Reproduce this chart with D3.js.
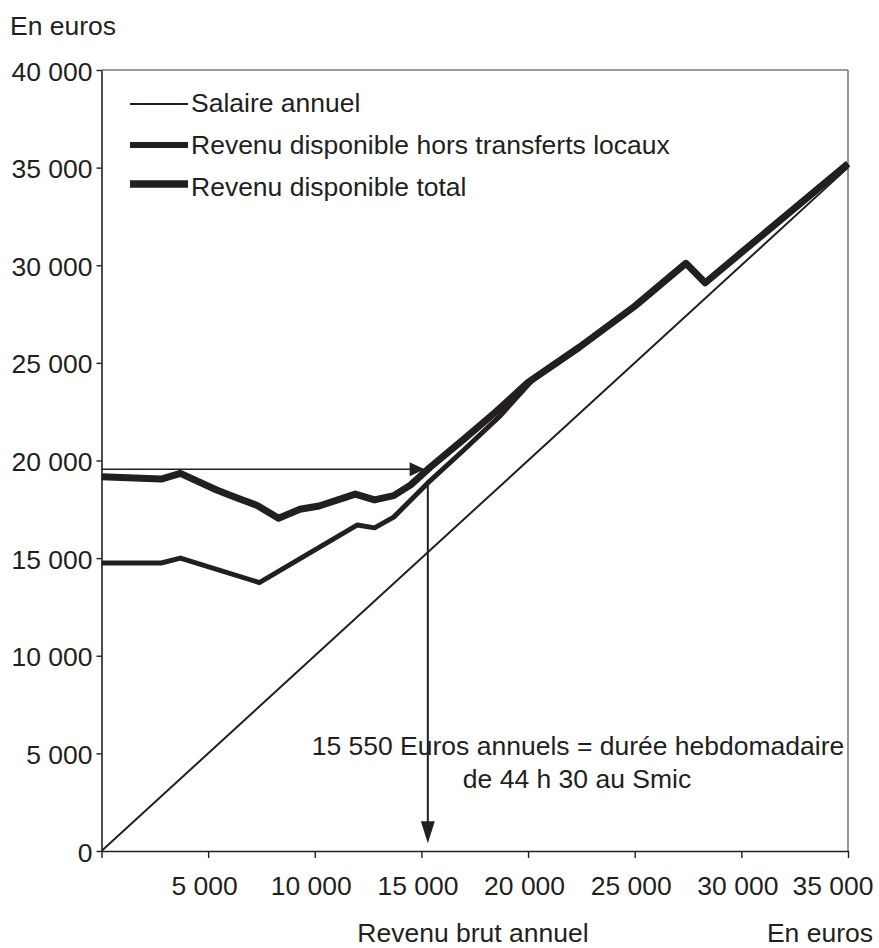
<!DOCTYPE html>
<html>
<head>
<meta charset="utf-8">
<script src="https://cdn.jsdelivr.net/npm/d3@7/dist/d3.min.js"></script>
<style>
  html, body { margin: 0; padding: 0; background: #fff; }
  svg text { font-family: "Liberation Sans", Arial, Helvetica, sans-serif; fill: #231f20; }
</style>
</head>
<body>
<svg id="chart" width="879" height="948"></svg>
<script>
// ---- Data ----
const seriesNames = ["Salaire annuel", "Revenu disponible hors transferts locaux", "Revenu disponible total"];

const salaireX = [0, 35000];
const salaireY = [0, 35000];

const horsX = [0, 2800, 3700, 7400, 12000, 12800, 13700, 15300, 17000, 18700, 20300, 22400, 25000, 27400, 28300, 30000, 35000];
const horsY = [14750, 14750, 15000, 13750, 16700, 16550, 17100, 18850, 20550, 22300, 24230, 25800, 27900, 30100, 29100, 30650, 35200];

const totalX = [0, 2800, 3700, 5400, 6300, 7300, 8300, 9300, 10200, 11900, 12800, 13700, 14500, 15400, 17000, 18500, 20000, 22400, 25000, 27400, 28300, 30000, 35000];
const totalY = [19170, 19050, 19340, 18490, 18110, 17700, 17040, 17500, 17670, 18280, 17980, 18200, 18750, 19650, 21100, 22500, 24000, 25800, 27900, 30100, 29100, 30650, 35200];

const yTicks = [0, 5000, 10000, 15000, 20000, 25000, 30000, 35000, 40000];
const xTicks = [0, 5000, 10000, 15000, 20000, 25000, 30000, 35000];

// annotation arrows (data units)
const hArrowX = [0, 15150];
const hArrowY = 19550;
const vArrowX = 15300;
const vArrowY = [18900, 400];

const noteLines = ["15 550 Euros annuels = durée hebdomadaire", "de 44 h 30 au Smic"];

// ---- Chart ----
const svg = d3.select("#chart");
const fontSize = 26.5;
const ink = "#231f20";

const x = d3.scaleLinear().domain([0, 35000]).range([101.5, 848]);
const y = d3.scaleLinear().domain([0, 40000]).range([851, 70]);

const loc = d3.formatLocale({ decimal: ",", thousands: " ", grouping: [3], currency: ["", " €"] });
const fmt = loc.format(",d");

// Frame (top/right grey)
svg.append("line").attr("x1", x(0)).attr("x2", x(35000)).attr("y1", y(40000)).attr("y2", y(40000))
  .attr("stroke", "#7a7a7a").attr("stroke-width", 1.6);
svg.append("line").attr("x1", x(35000)).attr("x2", x(35000)).attr("y1", y(40000)).attr("y2", y(0))
  .attr("stroke", "#7a7a7a").attr("stroke-width", 1.6);

// Y axis
const yAxis = d3.axisLeft(y).tickValues(yTicks).tickFormat(fmt).tickSize(5).tickPadding(4).tickSizeOuter(0);
const gy = svg.append("g").attr("transform", `translate(${x(0)},0)`).call(yAxis);
gy.select(".domain").attr("stroke", ink).attr("stroke-width", 1.6);
gy.selectAll(".tick line").attr("stroke", ink).attr("stroke-width", 1.4);
gy.selectAll(".tick text").attr("font-size", fontSize).attr("dy", "0.38em").style("fill", ink);

// X axis
const xAxis = d3.axisBottom(x).tickValues(xTicks).tickFormat(d => d === 0 ? "" : fmt(d)).tickSize(7).tickPadding(18).tickSizeOuter(0);
const gx = svg.append("g").attr("transform", `translate(0,${y(0)})`).call(xAxis);
gx.select(".domain").attr("stroke", ink).attr("stroke-width", 1.6);
gx.selectAll(".tick line").attr("stroke", ink).attr("stroke-width", 1.4);
gx.selectAll(".tick text").attr("font-size", fontSize).attr("dx", -4).style("fill", ink);
// last label kept inside the picture
gx.selectAll(".tick text").filter(d => d === 35000).attr("text-anchor", "end").attr("dx", 873 - x(35000));

// Axis titles
svg.append("text").attr("x", 10).attr("y", 35).attr("font-size", fontSize).text("En euros");
svg.append("text").attr("x", 473).attr("y", 942).attr("text-anchor", "middle").attr("font-size", fontSize).text("Revenu brut annuel");
svg.append("text").attr("x", 873).attr("y", 942).attr("text-anchor", "end").attr("font-size", fontSize).text("En euros");

// Lines
const line = d3.line().x(d => x(d[0])).y(d => y(d[1]));
const zip = (a, b) => a.map((v, i) => [v, b[i]]);

const plot = svg.append("g");
plot.append("path").datum(zip(totalX, totalY)).attr("d", line)
  .attr("fill", "none").attr("stroke", ink).attr("stroke-width", 7).attr("stroke-linejoin", "round");
plot.append("path").datum(zip(horsX, horsY)).attr("d", line)
  .attr("fill", "none").attr("stroke", ink).attr("stroke-width", 5).attr("stroke-linejoin", "round");
plot.append("path").datum(zip(salaireX, salaireY)).attr("d", line)
  .attr("fill", "none").attr("stroke", ink).attr("stroke-width", 2);

// Horizontal arrow
const hx0 = x(hArrowX[0]), hx1 = x(hArrowX[1]), hy = y(hArrowY);
svg.append("line").attr("x1", hx0).attr("x2", hx1 - 10).attr("y1", hy).attr("y2", hy)
  .attr("stroke", ink).attr("stroke-width", 1.6);
svg.append("path").attr("d", `M${hx1},${hy} L${hx1 - 15},${hy - 7} L${hx1 - 15},${hy + 7} Z`).attr("fill", ink);

// Vertical arrow
const vx = x(vArrowX), vy0 = y(vArrowY[0]), vy1 = y(vArrowY[1]);
svg.append("line").attr("x1", vx).attr("x2", vx).attr("y1", vy0).attr("y2", vy1 - 12)
  .attr("stroke", ink).attr("stroke-width", 2);
svg.append("path").attr("d", `M${vx},${vy1} L${vx - 7},${vy1 - 22} L${vx + 7},${vy1 - 22} Z`).attr("fill", ink);

// Annotation text
svg.append("text").attr("x", 578).attr("y", 755).attr("text-anchor", "middle").attr("font-size", fontSize).text(noteLines[0]);
svg.append("text").attr("x", 577).attr("y", 788).attr("text-anchor", "middle").attr("font-size", fontSize).text(noteLines[1]);

// Legend
const legendWidths = [2, 6, 7.5];
const legendLineY = [104, 145, 184];
const legendBase = [112, 154, 196];
seriesNames.forEach((name, i) => {
  svg.append("line").attr("x1", 130).attr("x2", 188).attr("y1", legendLineY[i]).attr("y2", legendLineY[i])
    .attr("stroke", ink).attr("stroke-width", legendWidths[i]);
  svg.append("text").attr("x", 191).attr("y", legendBase[i]).attr("font-size", fontSize).text(name);
});
</script>
</body>
</html>
